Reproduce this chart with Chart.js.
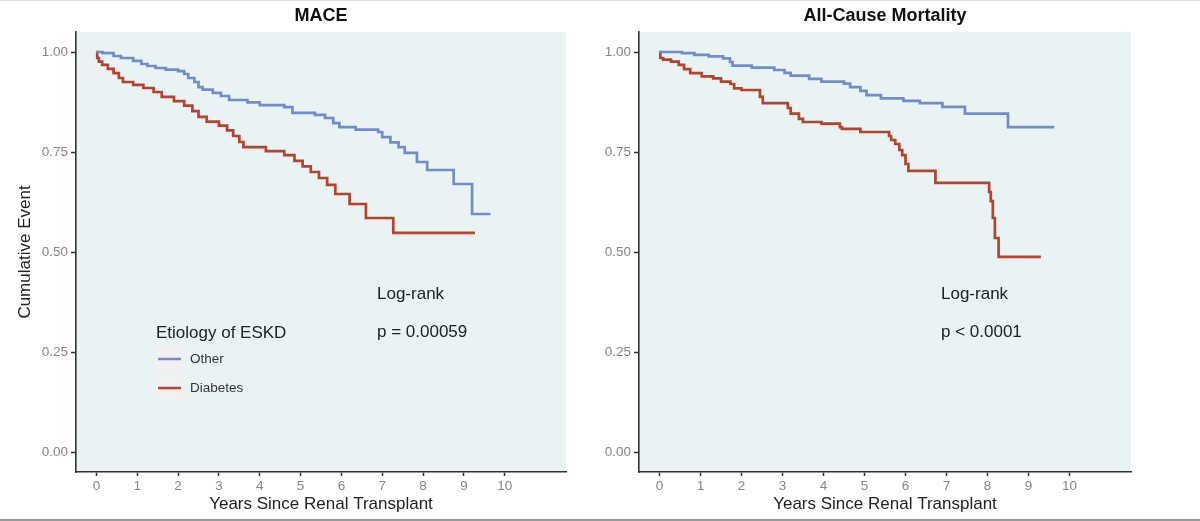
<!DOCTYPE html>
<html>
<head>
<meta charset="utf-8">
<script src="https://cdn.jsdelivr.net/npm/chart.js@4.4.1/dist/chart.umd.min.js"></script>
<style>
  html, body { margin: 0; padding: 0; background: #fff; }
  #page { position: relative; width: 1200px; height: 521px; overflow: hidden; }
  #page:before { content: ''; position: absolute; left: 0; top: 0; width: 1200px; height: 1px; background: #ddd; }
  #page:after { content: ''; position: absolute; left: 0; top: 519px; width: 1200px; height: 2px; background: #999; }
  .panel { position: absolute; top: 0; }
</style>
</head>
<body>
<div id="page">
  <div class="panel" style="left:0px"><canvas id="maceChart" width="600" height="521"></canvas></div>
  <div class="panel" style="left:590px"><canvas id="mortChart" width="610" height="521"></canvas></div>
</div>
<script>
// eje y / eje x
const Y_TICKS = [0, 0.25, 0.5, 0.75, 1];
const X_TICKS = [0, 1, 2, 3, 4, 5, 6, 7, 8, 9, 10];
const GROUPS = ['Other', 'Diabetes'];

// MACE - Other
const maceOtherT = [0, 0.15, 0.42, 0.6, 0.9, 1.1, 1.25, 1.45, 1.7, 2.0, 2.15, 2.25, 2.4, 2.5, 2.6, 2.85, 3.05, 3.25, 3.7, 4.0, 4.6, 4.8, 5.35, 5.6, 5.8, 5.95, 6.35, 6.9, 7.0, 7.2, 7.4, 7.55, 7.85, 8.1, 8.75, 9.2, 9.65];
const maceOtherS = [1.0, 0.997, 0.99, 0.985, 0.978, 0.97, 0.965, 0.96, 0.956, 0.952, 0.945, 0.935, 0.925, 0.912, 0.906, 0.898, 0.89, 0.88, 0.874, 0.867, 0.862, 0.848, 0.843, 0.835, 0.822, 0.812, 0.806, 0.8, 0.787, 0.774, 0.762, 0.748, 0.725, 0.705, 0.67, 0.595, 0.595];

// MACE - Diabetes
const maceDiabT = [0, 0.02, 0.06, 0.14, 0.28, 0.42, 0.55, 0.65, 0.9, 1.15, 1.4, 1.6, 1.9, 2.15, 2.35, 2.5, 2.7, 3.0, 3.2, 3.35, 3.5, 3.6, 4.15, 4.6, 4.85, 5.05, 5.25, 5.45, 5.65, 5.85, 6.2, 6.6, 7.27, 9.27];
const maceDiabS = [1.0, 0.985, 0.976, 0.968, 0.958, 0.947, 0.935, 0.925, 0.918, 0.91, 0.9, 0.888, 0.877, 0.866, 0.852, 0.838, 0.826, 0.816, 0.804, 0.79, 0.775, 0.762, 0.752, 0.742, 0.728, 0.714, 0.7, 0.685, 0.668, 0.645, 0.62, 0.585, 0.548, 0.548];

// Mortalidad - Other
const mortOtherT = [0, 0.55, 0.85, 1.2, 1.55, 1.72, 1.78, 2.25, 2.8, 3.05, 3.2, 3.65, 3.95, 4.5, 4.65, 4.9, 5.05, 5.4, 5.95, 6.35, 6.9, 7.45, 8.5, 9.63];
const mortOtherS = [1.0, 0.997, 0.993, 0.989, 0.984, 0.975, 0.966, 0.961, 0.955, 0.948, 0.941, 0.933, 0.926, 0.921, 0.912, 0.903, 0.892, 0.884, 0.878, 0.872, 0.863, 0.846, 0.812, 0.812];

// Mortalidad - Diabetes
const mortDiabT = [0, 0.02, 0.09, 0.28, 0.47, 0.6, 0.75, 1.03, 1.31, 1.5, 1.73, 1.82, 2.0, 2.45, 2.52, 3.13, 3.2, 3.4, 3.5, 3.95, 4.4, 4.45, 4.9, 5.6, 5.65, 5.75, 5.85, 5.92, 6.0, 6.07, 6.73, 8.04, 8.08, 8.13, 8.18, 8.27, 9.3];
const mortDiabS = [1.0, 0.985, 0.981, 0.976, 0.968, 0.957, 0.947, 0.939, 0.934, 0.926, 0.92, 0.909, 0.905, 0.888, 0.872, 0.86, 0.846, 0.833, 0.825, 0.821, 0.812, 0.808, 0.8, 0.79, 0.78, 0.77, 0.755, 0.742, 0.72, 0.703, 0.673, 0.65, 0.627, 0.585, 0.535, 0.488, 0.488];

const COLOR_OTHER = '#6f8dc8';
const COLOR_DIAB = '#b4432f';
const FONT = '"Liberation Sans", Arial, Helvetica, sans-serif';

function puntos(t, s) {
    return t.map((x, i) => ({ x: x, y: s[i] }));
}

// fondo del panel
const fondoPanel = {
    id: 'fondoPanel',
    beforeDraw(chart) {
        const a = chart.chartArea;
        const ctx = chart.ctx;
        ctx.save();
        ctx.fillStyle = '#e9f3f4';
        ctx.fillRect(a.left, a.top, a.right - a.left, a.bottom - a.top);
        ctx.restore();
    }
};

// titulo, texto log-rank y leyenda
function textos(titulo, pTexto, textoX, conLeyenda) {
    return {
        id: 'textos',
        afterDraw(chart) {
            const a = chart.chartArea;
            const ctx = chart.ctx;
            ctx.save();
            ctx.textBaseline = 'middle';
            ctx.fillStyle = '#111';
            ctx.font = 'bold 18px ' + FONT;
            ctx.textAlign = 'center';
            ctx.fillText(titulo, (a.left + a.right) / 2, 16);

            ctx.textAlign = 'left';
            ctx.fillStyle = '#222';
            ctx.font = '17px ' + FONT;
            ctx.fillText('Log-rank', textoX, 294);
            ctx.fillText(pTexto, textoX, 332);

            if (conLeyenda) {
                ctx.fillStyle = '#222';
                ctx.font = '17px ' + FONT;
                ctx.fillText('Etiology of ESKD', 156, 333);
                const filas = [359, 388];
                const colores = [COLOR_OTHER, COLOR_DIAB];
                filas.forEach((y, i) => {
                    ctx.fillStyle = 'rgba(250,238,238,0.6)';
                    ctx.fillRect(156, y - 13, 27, 26);
                    ctx.strokeStyle = colores[i];
                    ctx.lineWidth = 2.5;
                    ctx.beginPath();
                    ctx.moveTo(158, y);
                    ctx.lineTo(181, y);
                    ctx.stroke();
                    ctx.fillStyle = '#333';
                    ctx.font = '13.5px ' + FONT;
                    ctx.fillText(GROUPS[i], 190, y);
                });
            }
            ctx.restore();
        }
    };
}

function crearGrafico(id, datosOtro, datosDiab, anchoY, padDer, mostrarTituloY, plugin) {
    return new Chart(document.getElementById(id), {
        type: 'line',
        data: {
            datasets: [
                { label: GROUPS[0], data: datosOtro, borderColor: COLOR_OTHER, borderWidth: 2.7, stepped: true, pointRadius: 0, fill: false },
                { label: GROUPS[1], data: datosDiab, borderColor: COLOR_DIAB, borderWidth: 2.7, stepped: true, pointRadius: 0, fill: false },
            ],
        },
        options: {
            responsive: false,
            animation: false,
            events: [],
            layout: { padding: { top: 32, right: padDer, bottom: 0, left: 0 } },
            plugins: { legend: { display: false }, tooltip: { enabled: false }, title: { display: false } },
            scales: {
                x: {
                    type: 'linear',
                    min: -0.5,
                    max: 11.5,
                    afterBuildTicks: (s) => { s.ticks = X_TICKS.map((v) => ({ value: v })); },
                    afterFit: (s) => { s.height = 49; },
                    border: { display: true, color: '#333', width: 1.6 },
                    grid: { display: true, drawOnChartArea: false, drawTicks: true, tickLength: 4, tickColor: '#333', tickWidth: 1.5 },
                    ticks: { color: '#858585', font: { family: FONT, size: 13.5 }, padding: 2, maxRotation: 0, autoSkip: false },
                    title: { display: true, text: 'Years Since Renal Transplant', color: '#222', font: { family: FONT, size: 17 }, padding: { top: 0, bottom: 6 } },
                },
                y: {
                    min: -0.05,
                    max: 1.05,
                    afterBuildTicks: (s) => { s.ticks = Y_TICKS.map((v) => ({ value: v })); },
                    afterFit: (s) => { s.width = anchoY; },
                    border: { display: true, color: '#333', width: 1.6 },
                    grid: { display: true, drawOnChartArea: false, drawTicks: true, tickLength: 5, tickColor: '#333', tickWidth: 1.5 },
                    ticks: { color: '#858585', font: { family: FONT, size: 13.5 }, padding: 3, callback: (v) => Number(v).toFixed(2) },
                    title: { display: mostrarTituloY, text: 'Cumulative Event', color: '#222', font: { family: FONT, size: 17 }, padding: { top: 15, bottom: 0 } },
                },
            },
        },
        plugins: [fondoPanel, plugin],
    });
}

crearGrafico('maceChart', puntos(maceOtherT, maceOtherS), puntos(maceDiabT, maceDiabS), 76, 34, true,
    textos('MACE', 'p = 0.00059', 377, true));
crearGrafico('mortChart', puntos(mortOtherT, mortOtherS), puntos(mortDiabT, mortDiabS), 49, 69, false,
    textos('All-Cause Mortality', 'p < 0.0001', 941 - 590, false));
</script>
</body>
</html>
